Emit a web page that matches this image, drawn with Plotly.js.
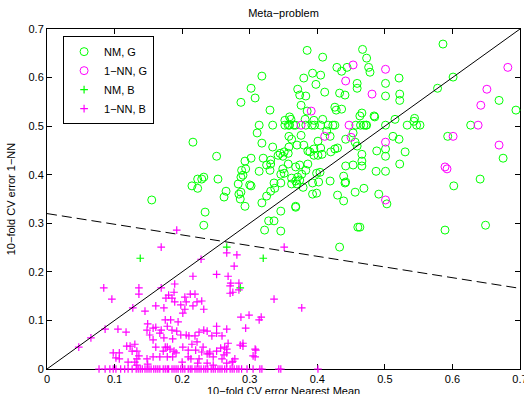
<!DOCTYPE html>
<html>
<head>
<meta charset="utf-8">
<script src="https://cdn.plot.ly/plotly-3.0.1.min.js"></script>
<style>html,body{margin:0;padding:0;background:#fff;}#chart{width:524px;height:394px;}</style>
</head>
<body>
<div id="chart"></div>
<script>
// ---- Series labels ----
const seriesNames = ["NM, G", "1\u2212NN, G", "NM, B", "1\u2212NN, B"];
const titleText = "Meta\u2212problem";
const xTitleText = "10\u2212fold CV error Nearest Mean";
const yTitleText = "10\u2212fold CV error 1\u2212NN";

// ---- NM, G (green circles) ----
const nmGx = [
0.385,0.408,0.467,0.473,0.586,0.318,0.393,0.405,0.380,0.398,
0.429,0.444,0.436,0.459,0.459,0.476,0.478,0.302,0.308,0.287,
0.371,0.374,0.383,0.411,0.433,0.441,0.376,0.330,0.385,0.426,
0.428,0.436,0.395,0.382,0.408,0.359,0.361,0.352,0.466,0.463,
0.484,
0.314,0.334,0.352,0.357,0.359,0.365,0.368,0.383,0.392,0.396,
0.405,0.416,0.423,0.426,0.457,0.464,0.472,
0.469,0.473,0.501,0.533,0.547,0.552,0.627,
0.414,0.419,0.453,0.442,0.456,0.358,0.362,0.376,0.318,0.334,
0.370,0.380,0.358,0.401,0.405,0.395,0.386,0.426,0.420,0.430,
0.459,0.251,0.293,0.302,0.320,0.331,0.345,0.351,0.342,0.349,
0.357,0.389,0.395,0.401,0.407,0.325,0.331,0.357,0.368,0.374,
0.386,0.466,0.466,0.466,0.488,0.487,0.442,0.453,0.288,0.294,
0.287,0.290,0.314,0.330,0.349,0.346,0.351,0.362,0.371,0.374,
0.370,0.377,0.383,0.399,0.404,0.336,0.346,0.362,0.368,0.393,
0.402,0.439,0.441,0.456,0.469,0.283,0.302,0.265,0.262,0.284,
0.286,0.287,0.325,0.331,0.337,0.393,0.399,0.430,0.439,0.293,
0.318,0.368,0.253,0.232,0.229,0.491,
0.501,0.501,0.521,0.522,0.522,0.601,0.578,0.669,0.694,0.485,
0.515,0.544,0.543,0.512,0.521,0.593,0.675,0.501,0.501,0.530,
0.522,0.501,0.641,0.602,0.503,0.649,0.589,0.463,
0.300,0.346,0.328,0.336,0.322,0.346,0.368,0.460,0.433,0.419,
0.442,0.379,
0.216,0.155,0.234,0.2145,0.223,0.223,0.311,0.232
];
const nmGy = [
0.656,0.642,0.658,0.640,0.669,0.603,0.609,0.605,0.599,0.586,
0.621,0.621,0.613,0.588,0.578,0.621,0.611,0.578,0.558,0.549,
0.576,0.564,0.562,0.570,0.568,0.564,0.543,0.533,0.531,0.539,
0.533,0.535,0.512,0.514,0.514,0.519,0.514,0.512,0.527,0.521,
0.521,
0.502,0.502,0.502,0.502,0.502,0.502,0.502,0.502,0.502,0.502,
0.502,0.502,0.502,0.502,0.502,0.502,0.502,
0.502,0.502,0.502,0.502,0.502,0.502,0.502,
0.490,0.479,0.486,0.473,0.467,0.479,0.473,0.481,0.465,0.457,
0.461,0.461,0.457,0.469,0.455,0.453,0.449,0.453,0.447,0.455,
0.459,0.438,0.428,0.434,0.434,0.430,0.444,0.447,0.440,0.438,
0.444,0.447,0.440,0.440,0.442,0.420,0.422,0.422,0.416,0.420,
0.422,0.442,0.428,0.418,0.449,0.407,0.418,0.420,0.409,0.412,
0.395,0.399,0.407,0.409,0.412,0.401,0.403,0.393,0.395,0.389,
0.381,0.401,0.409,0.403,0.405,0.383,0.383,0.381,0.387,0.383,
0.385,0.397,0.383,0.364,0.372,0.381,0.377,0.366,0.354,0.360,
0.350,0.364,0.356,0.366,0.372,0.360,0.362,0.358,0.346,0.335,
0.342,0.335,0.391,0.395,0.391,0.360,
0.588,0.562,0.599,0.566,0.553,0.601,0.578,0.553,0.533,0.519,
0.514,0.516,0.510,0.479,0.473,0.479,0.434,0.453,0.438,0.447,
0.422,0.407,0.391,0.377,0.340,0.296,0.286,0.292,
0.379,0.325,0.305,0.305,0.286,0.284,0.333,0.292,0.251,0.387,
0.385,0.374,
0.467,0.348,0.323,0.377,0.391,0.372,0.486,0.296
];

// ---- 1-NN, G (magenta circles) ----
const nnGx = [0.453,0.442,0.481,0.391,0.376,0.447,0.411,0.450,0.501,0.682,
              0.651,0.642,0.638,0.501,0.601,0.669,0.589,0.592,0.501];
const nnGy = [0.626,0.593,0.566,0.531,0.502,0.502,0.479,0.477,0.617,0.621,
              0.576,0.543,0.502,0.467,0.479,0.461,0.416,0.412,0.348];

// ---- NM, B (green pluses) ----
const nmBx = [0.138,0.266,0.320,0.286];
const nmBy = [0.228,0.251,0.228,0.167];

// ---- 1-NN, B (magenta pluses) ----
const nnBx = [
0.192,0.169,0.084,0.096,0.127,0.136,0.136,0.169,0.189,0.188,
0.189,0.180,0.185,0.176,0.204,0.212,0.219,0.206,0.222,0.229,
0.232,0.216,0.204,0.198,0.201,0.161,0.145,0.173,0.251,0.266,
0.268,0.272,0.271,0.277,0.281,0.275,0.086,0.065,0.047,0.105,
0.117,0.123,0.130,0.133,0.126,0.133,0.098,0.102,0.107,0.149,
0.148,0.157,0.161,0.169,0.175,0.183,0.178,0.185,0.192,0.194,
0.198,0.186,0.152,0.157,0.167,0.173,0.206,0.210,0.219,0.225,
0.232,0.237,0.244,0.2145,0.222,0.231,0.220,0.229,0.237,0.251,
0.251,0.259,0.266,0.268,0.263,0.257,0.251,0.240,0.246,0.161,
0.172,0.182,0.178,0.188,0.191,0.178,0.167,0.157,0.148,0.149,
0.136,0.130,0.133,0.201,0.209,0.209,0.213,0.225,0.223,0.237,
0.246,0.259,0.266,0.274,0.278,0.266,0.266,
0.351,0.228,0.216,0.284,0.284,0.271,0.336,0.377,0.287,0.299,
0.314,0.317,0.294,0.286,0.290,0.309,0.308,0.262,0.241,0.275,
0.118,0.175,0.120,0.107,0.200,0.186,0.308,0.305,0.290,
0.077,0.086,0.093,0.098,0.102,0.109,0.115,0.120,0.126,0.132,
0.135,0.138,0.141,0.145,0.148,0.151,0.154,0.158,0.161,0.164,
0.167,0.172,0.175,0.178,0.180,0.185,0.188,0.191,0.194,0.198,
0.201,0.204,0.209,0.212,0.2145,0.219,0.222,0.225,0.228,0.232,
0.235,0.238,0.243,0.246,0.249,0.253,0.256,0.259,0.263,0.266,
0.271,0.274,0.277,0.281,0.284,0.288,0.296,0.305,0.315,0.318,
0.343,0.346,0.401
];
const nnBy = [
0.286,0.251,0.167,0.144,0.126,0.167,0.154,0.167,0.175,0.158,
0.138,0.152,0.146,0.146,0.148,0.154,0.154,0.138,0.138,0.140,
0.123,0.130,0.123,0.132,0.115,0.130,0.119,0.126,0.195,0.239,
0.191,0.177,0.171,0.212,0.235,0.158,0.082,0.064,0.045,0.082,
0.076,0.047,0.051,0.037,0.037,0.021,0.033,0.023,0.033,0.093,
0.080,0.084,0.086,0.080,0.101,0.101,0.088,0.080,0.078,0.097,
0.070,0.062,0.070,0.060,0.074,0.064,0.070,0.068,0.068,0.076,
0.080,0.078,0.068,0.051,0.056,0.045,0.039,0.035,0.031,0.088,
0.074,0.068,0.082,0.053,0.045,0.043,0.037,0.031,0.025,0.045,
0.037,0.041,0.045,0.037,0.033,0.025,0.025,0.025,0.021,0.010,
0.027,0.014,0.008,0.045,0.039,0.025,0.021,0.021,0.012,0.012,
0.008,0.021,0.012,0.014,0.021,0.041,0.033,
0.251,0.226,0.191,0.177,0.163,0.156,0.144,0.126,0.107,0.111,
0.101,0.107,0.084,0.049,0.053,0.039,0.025,0.029,0.035,0.016,
0.047,0.045,0.014,0.021,0.014,0.025,0.041,0.027,0.047,
0,0,0,0,0,0,0,0,0,0,
0,0,0,0,0,0,0,0,0,0,
0,0,0,0,0,0,0,0,0,0,
0,0,0,0,0,0,0,0,0,0,
0,0,0,0,0,0,0,0,0,0,
0,0,0,0,0,0,0,0,0,0,
0,0,0
];

// ---- Reference lines ----
const diagX = [0, 0.7];
const diagY = [0, 0.7];
const boundX = [0, 0.7];
const boundY = [0.32, 0.166];

// ---- Axis ticks ----
const tickVals = [0, 0.1, 0.2, 0.3, 0.4, 0.5, 0.6, 0.7];
const tickText = ["0", "0.1", "0.2", "0.3", "0.4", "0.5", "0.6", "0.7"];

const GREEN = "#00ff00", MAGENTA = "#ff00ff";
const font = "Liberation Sans, Arial, Helvetica, sans-serif";

const traces = [
  {x: nmGx, y: nmGy, name: seriesNames[0], mode: "markers", type: "scatter",
   marker: {symbol: "circle-open", size: 8, color: GREEN, line: {width: 1, color: GREEN}}, cliponaxis: false},
  {x: nnGx, y: nnGy, name: seriesNames[1], mode: "markers", type: "scatter",
   marker: {symbol: "circle-open", size: 8, color: MAGENTA, line: {width: 1, color: MAGENTA}}, cliponaxis: false},
  {x: nmBx, y: nmBy, name: seriesNames[2], mode: "markers", type: "scatter",
   marker: {symbol: "cross-thin-open", size: 5.5, color: GREEN, line: {width: 1.2, color: GREEN}}, cliponaxis: false},
  {x: nnBx, y: nnBy, name: seriesNames[3], mode: "markers", type: "scatter",
   marker: {symbol: "cross-thin-open", size: 5.5, color: MAGENTA, line: {width: 1.2, color: MAGENTA}}, cliponaxis: false},
  {x: diagX, y: diagY, mode: "lines", type: "scatter", showlegend: false, hoverinfo: "skip",
   line: {color: "#000", width: 1}},
  {x: boundX, y: boundY, mode: "lines", type: "scatter", showlegend: false, hoverinfo: "skip",
   line: {color: "#000", width: 1, dash: "10px,5px"}}
];

const axisCommon = {
  range: [0, 0.7], tickvals: tickVals, ticktext: tickText,
  ticks: "inside", ticklen: 5, tickwidth: 1, tickcolor: "#000",
  showline: true, linecolor: "#000", linewidth: 1, mirror: "ticks",
  showgrid: false, zeroline: false, ticklabeloverflow: "allow",
  layer: "below traces",
  tickfont: {family: font, size: 11, color: "#000"}
};

const layout = {
  width: 524, height: 394,
  margin: {l: 47, r: 4, t: 29, b: 25},
  paper_bgcolor: "#fff", plot_bgcolor: "#fff",
  font: {family: font, size: 11, color: "#000"},
  title: {text: titleText, font: {family: font, size: 11, color: "#000"},
          x: 0.5, xanchor: "center", xref: "paper", y: 0.967, yanchor: "middle", yref: "container"},
  xaxis: Object.assign({}, axisCommon),
  yaxis: Object.assign({}, axisCommon, {
    title: {text: yTitleText, font: {family: font, size: 11, color: "#000"}}
  }),
  annotations: [
    {text: xTitleText, xref: "paper", yref: "paper", x: 0.5, y: -0.045,
     xanchor: "center", yanchor: "top", showarrow: false, borderpad: 0,
     font: {family: font, size: 11, color: "#000"}}
  ],
  showlegend: true,
  legend: {x: 0.034, y: 0.979, xanchor: "left", yanchor: "top",
           bgcolor: "#fff", bordercolor: "#000", borderwidth: 1,
           font: {family: font, size: 11, color: "#000"}, itemwidth: 30, tracegroupgap: 0}
};

Plotly.newPlot("chart", traces, layout, {staticPlot: true, displayModeBar: false});
</script>
</body>
</html>
